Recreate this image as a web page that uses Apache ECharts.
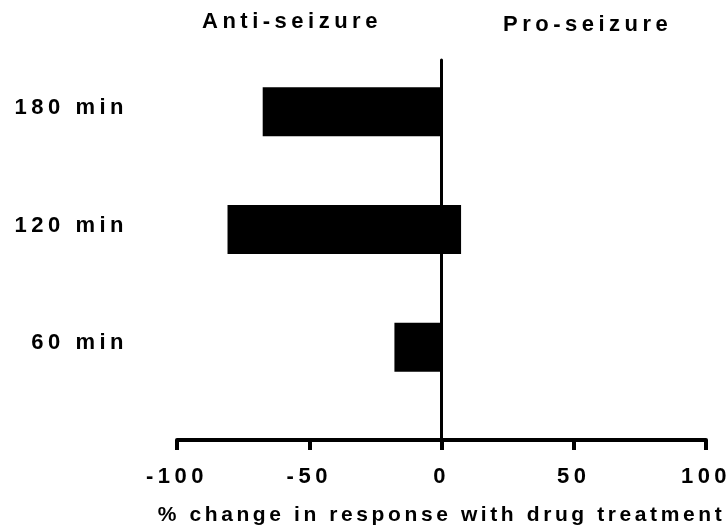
<!DOCTYPE html>
<html>
<head>
<meta charset="utf-8">
<script src="https://cdn.jsdelivr.net/npm/echarts@6/dist/echarts.min.js"></script>
<style>html,body{margin:0;padding:0;background:#fff;}#c{width:728px;height:526px;}</style>
</head>
<body>
<div id="c"></div>
<script>
// Data
var categories = ['60 min', '120 min', '180 min'];
var antiValues = [-17.8, -80.9, -67.6];
var proValues = [0, 7.4, 0];
var xTicks = [-100, -50, 0, 50, 100];
var xAxisName = '% change in response with drug treatment';
var leftHeader = 'Anti-seizure';
var rightHeader = 'Pro-seizure';

// Spaced lettering like the reference (canvas letterSpacing)
(function(){
  var proto = CanvasRenderingContext2D.prototype;
  var orig = proto.fillText;
  proto.fillText = function(t, x, y, m){
    var f = this.font || '';
    var mm = f.match(/(\d+(?:\.\d+)?)px/);
    var sz = mm ? parseFloat(mm[1]) : 12;
    try { this.letterSpacing = (sz >= 22 ? 4.5 : 3.6) + 'px'; } catch(e){}
    var r = m === undefined ? orig.call(this, t, x, y) : orig.call(this, t, x, y, m);
    try { this.letterSpacing = '0px'; } catch(e){}
    return r;
  };
})();

var FONT = 'Liberation Sans, Arial, sans-serif';
var chart = echarts.init(document.getElementById('c'), null, {renderer: 'canvas'});
chart.setOption({
  backgroundColor: '#fff',
  animation: false,
  grid: [
    {left: 177, right: 22, top: 60, bottom: 86, containLabel: false, outerBoundsMode: 'none'},
    {left: 177, right: 22, top: 53, bottom: 120, containLabel: false, outerBoundsMode: 'none'},
    {left: 177, right: 22, top: 49, bottom: 124, containLabel: false, outerBoundsMode: 'none'}
  ],
  xAxis: [
    {
      type: 'value', gridIndex: 0, min: xTicks[0], max: xTicks[xTicks.length - 1], interval: 50,
      axisLine: {show: true, lineStyle: {color: '#000', width: 4}},
      axisTick: {show: true, length: 10, lineStyle: {color: '#000', width: 4}},
      splitLine: {show: false},
      axisLabel: {color: '#000', fontSize: 22, fontWeight: 'bold', fontFamily: FONT, margin: 26},
      name: xAxisName, nameLocation: 'middle', nameGap: 65,
      nameTextStyle: {color: '#000', fontSize: 21, fontWeight: 'bold', fontFamily: FONT}
    },
    {
      type: 'value', gridIndex: 1, min: xTicks[0], max: xTicks[xTicks.length - 1],
      show: false
    },
    {
      type: 'value', gridIndex: 2, min: xTicks[0], max: xTicks[xTicks.length - 1],
      show: false
    }
  ],
  yAxis: [
    {
      type: 'value', gridIndex: 0, min: 0, max: 1,
      axisLine: {show: true, onZero: true, lineStyle: {color: '#000', width: 3}},
      axisTick: {show: false}, axisLabel: {show: false}, splitLine: {show: false}
    },
    {
      type: 'category', gridIndex: 1, data: categories,
      axisLine: {show: false, onZero: false}, axisTick: {show: false}, splitLine: {show: false},
      axisLabel: {show: false}
    },
    {
      type: 'category', gridIndex: 2, data: categories,
      axisLine: {show: false, onZero: false}, axisTick: {show: false}, splitLine: {show: false},
      axisLabel: {color: '#000', fontSize: 22, fontWeight: 'bold', fontFamily: FONT, margin: 49}
    }
  ],
  series: [
    {
      type: 'bar', xAxisIndex: 1, yAxisIndex: 1, data: antiValues,
      barWidth: 49, barGap: '-100%', itemStyle: {color: '#000'}, silent: true
    },
    {
      type: 'bar', xAxisIndex: 1, yAxisIndex: 1, data: proValues,
      barWidth: 49, barGap: '-100%', itemStyle: {color: '#000'}, silent: true
    }
  ],
  graphic: [
    {type: 'text', left: 202, top: 11, style: {text: leftHeader, fill: '#000', font: 'bold 22px ' + FONT}},
    {type: 'text', left: 503, top: 14, style: {text: rightHeader, fill: '#000', font: 'bold 22px ' + FONT}}
  ]
});
</script>
</body>
</html>
